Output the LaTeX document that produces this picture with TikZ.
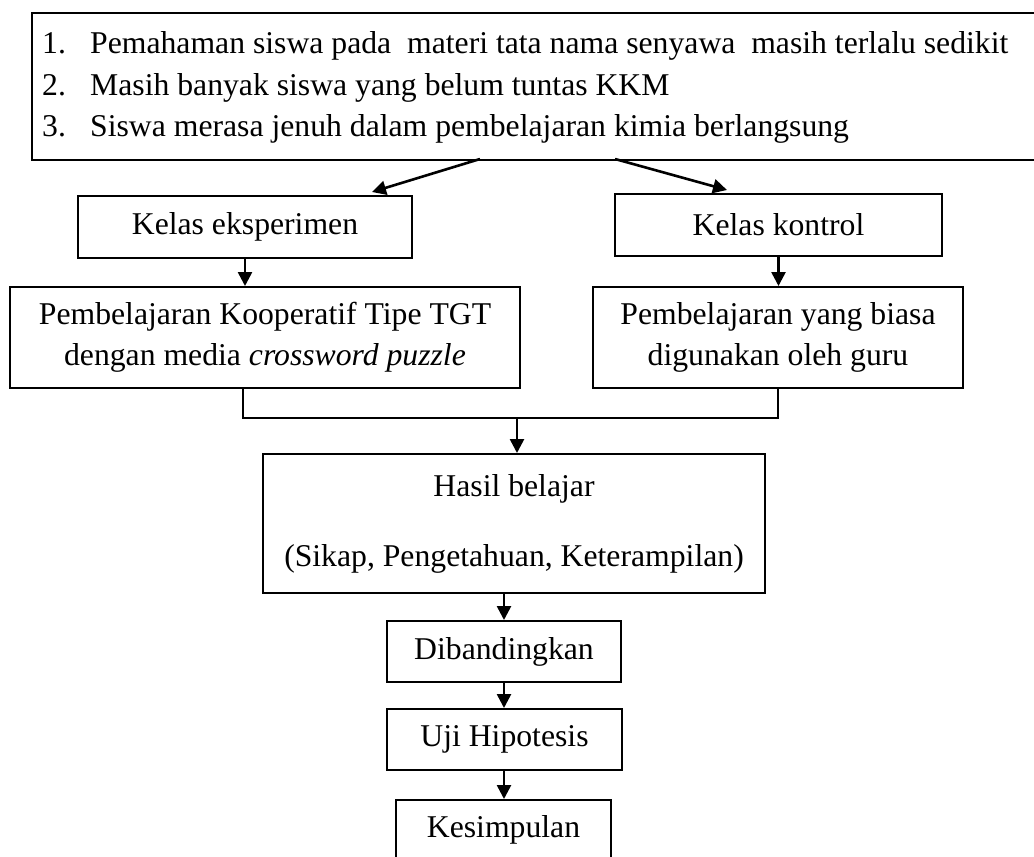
\documentclass[tikz,border=0pt]{standalone}
\usepackage{fontspec}
\setmainfont{Liberation Serif}
\usetikzlibrary{arrows.meta,calc}
\begin{document}
\begin{tikzpicture}[x=1pt,y=-1pt,
  every node/.style={font=\fontsize{31.7}{41}\selectfont},
  box/.style={draw,line width=2pt,inner sep=0pt,align=center},
  arr/.style={line width=2.6pt,-{Triangle[length=14pt,width=14pt]}},
  ln/.style={line width=2pt}]
\clip (0,0) rectangle (1034,857);
% top problem box
\node[draw,line width=2pt,anchor=north west,minimum width=1030pt,minimum height=147pt,inner sep=0pt] (top) at (31,12) {};
\node[anchor=base west,inner sep=0pt] (t1) at (42,53) {\makebox[48pt][l]{1.}Pemahaman siswa pada\ \ materi tata nama senyawa\ \ masih terlalu sedikit};
\node[anchor=base west,inner sep=0pt] (t2) at (42,95) {\makebox[48pt][l]{2.}Masih banyak siswa yang belum tuntas KKM};
\node[anchor=base west,inner sep=0pt] (t3) at (42,136) {\makebox[48pt][l]{3.}Siswa merasa jenuh dalam pembelajaran kimia berlangsung};
\coordinate (sL) at (480,159);
\coordinate (sR) at (615,159);
\coordinate (eL) at (372,192);
\coordinate (eR) at (727,190);
% class boxes
\node[box,minimum width=334pt,minimum height=62pt] (keks) at (245,227) {Kelas eksperimen};
\node[box,minimum width=327pt,minimum height=62pt] (kkon) at (778.5,225) {Kelas kontrol};
\node[box,minimum width=510pt,minimum height=101pt] (pkt) at (265,337.5) {Pembelajaran Kooperatif Tipe TGT\\dengan media \textit{crossword puzzle}};
\node[box,minimum width=370pt,minimum height=101pt] (pyb) at (778,337.5) {Pembelajaran yang biasa\\digunakan oleh guru};
\node[box,minimum width=502pt,minimum height=139pt] (hasil) at (514,523.5) {Hasil belajar\\[29pt](Sikap, Pengetahuan, Keterampilan)};
\node[box,minimum width=234pt,minimum height=61pt] (dib) at (504,651.5) {Dibandingkan};
\node[box,minimum width=235pt,minimum height=61pt] (uji) at (504.5,739.5) {Uji Hipotesis};
\node[box,minimum width=215pt,minimum height=60pt] (kes) at (503.5,830) {Kesimpulan};
% connectors
\draw[arr] (sL) -- (eL);
\draw[arr] (sR) -- (eR);
\draw[arr] (keks.south) -- (keks.south |- pkt.north);
\draw[arr] (kkon.south) -- (kkon.south |- pyb.north);
\coordinate (jL) at (243,418);
\coordinate (jM) at (517,418);
\draw[ln] (pkt.south -| jL) -- (jL) -- (jL -| pyb.south) -- (pyb.south);
\draw[arr] (jM) -- (jM |- hasil.north);
\draw[arr] (dib.north |- hasil.south) -- (dib.north);
\draw[arr] (dib.south) -- (dib.south |- uji.north);
\draw[arr] (dib.south |- uji.south) -- (dib.south |- kes.north);
\end{tikzpicture}
\end{document}
